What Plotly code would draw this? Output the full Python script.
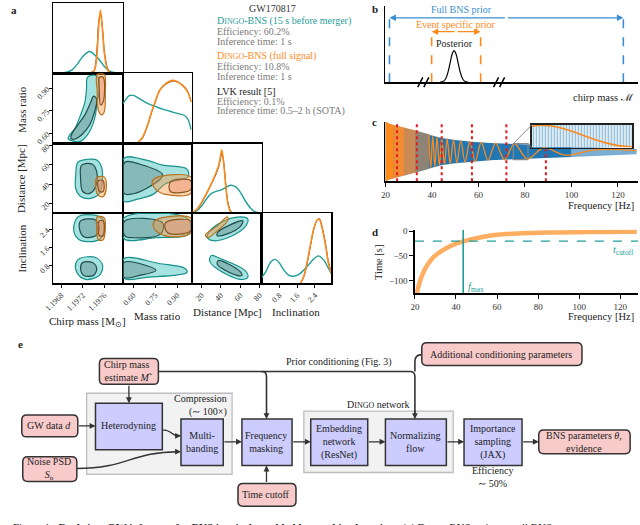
import plotly.graph_objects as go

W, H = 640, 525
FONT = 'Liberation Serif'
TEAL = '#1f9e98'
ORANGE = '#ff8a1c'
BLUE = '#1f77b4'
GRAYTXT = '#7a7a7a'
PINK = '#f8caca'
LAV = '#ccccff'

# ---------------- data: panel a (corner plot) ----------------
PARAM_RANGES = [[1.19665, 1.19795], [0.53, 1.0], [10, 82], [0, 3.14159]]
TICK_VALS = [[1.1968, 1.1972, 1.1976], [0.60, 0.75, 0.90], [20, 40, 60, 80], [0.8, 1.6, 2.4]]
TICK_TEXT = [['1.1968', '1.1972', '1.1976'], ['0.60', '0.75', '0.90'], ['20', '40', '60', '80'], ['0.8', '1.6', '2.4']]
PARAM_LABELS = ['Chirp mass [M<sub>⊙</sub>]', 'Mass ratio', 'Distance [Mpc]', 'Inclination']

# 1D marginals (height as fraction of panel)
MC_GRID_TEAL = [1.19665, 1.1968, 1.1969, 1.1970, 1.1971, 1.1972, 1.19733, 1.1975, 1.1976, 1.1977, 1.1978, 1.19795]
MC_TEAL = [0.0, 0.005, 0.015, 0.05, 0.13, 0.24, 0.31, 0.2, 0.1, 0.03, 0.008, 0.0]
MC_GRID_ORANGE = [1.19665, 1.1972, 1.1974, 1.19745, 1.1975, 1.19753, 1.19757, 1.1976, 1.19765, 1.1977, 1.1979]
MC_ORANGE = [0.0, 0.0, 0.02, 0.15, 0.7, 0.9, 0.6, 0.3, 0.08, 0.01, 0.0]
MC_LVK = [0.0, 0.0, 0.03, 0.2, 0.75, 0.84, 0.62, 0.33, 0.1, 0.02, 0.0]

Q_GRID_TEAL = [0.53, 0.55, 0.57, 0.59, 0.61, 0.65, 0.70, 0.75, 0.80, 0.85, 0.90, 0.95, 0.975, 0.995]
Q_TEAL = [0.57, 0.63, 0.68, 0.69, 0.68, 0.63, 0.57, 0.53, 0.49, 0.46, 0.43, 0.40, 0.34, 0.2]
Q_GRID_ORANGE = [0.53, 0.62, 0.66, 0.70, 0.725, 0.75, 0.78, 0.82, 0.87, 0.91, 0.95, 0.975, 0.995]
Q_ORANGE = [0.0, 0.0, 0.08, 0.28, 0.45, 0.6, 0.76, 0.85, 0.9, 0.87, 0.8, 0.72, 0.59]
Q_LVK = [0.0, 0.0, 0.07, 0.27, 0.44, 0.59, 0.75, 0.84, 0.89, 0.87, 0.81, 0.73, 0.6]

D_GRID_TEAL = [10, 15, 20, 25, 30, 35, 40, 45, 50, 55, 60, 65, 70, 75, 82]
D_TEAL = [0.0, 0.03, 0.1, 0.2, 0.28, 0.31, 0.33, 0.37, 0.40, 0.38, 0.3, 0.18, 0.08, 0.02, 0.0]
D_GRID_ORANGE = [10, 15, 20, 25, 30, 35, 38, 41, 43, 45, 47, 50, 53, 82]
D_ORANGE = [0.0, 0.05, 0.15, 0.28, 0.42, 0.58, 0.7, 0.91, 0.7, 0.4, 0.15, 0.02, 0.0, 0.0]
D_LVK = [0.0, 0.05, 0.14, 0.27, 0.41, 0.56, 0.68, 0.86, 0.72, 0.42, 0.17, 0.03, 0.0, 0.0]

I_GRID_TEAL = [0.0, 0.2, 0.4, 0.6, 0.8, 1.0, 1.2, 1.45, 1.7, 2.0, 2.3, 2.55, 2.8, 3.0, 3.14]
I_TEAL = [0.08, 0.17, 0.3, 0.34, 0.29, 0.19, 0.12, 0.1, 0.13, 0.22, 0.33, 0.39, 0.33, 0.22, 0.14]
I_GRID_ORANGE = [1.75, 1.9, 2.05, 2.2, 2.35, 2.5, 2.6, 2.75, 2.9, 3.0, 3.14]
I_ORANGE = [0.0, 0.1, 0.3, 0.55, 0.78, 0.9, 0.91, 0.75, 0.5, 0.3, 0.14]
I_LVK = [0.0, 0.09, 0.28, 0.53, 0.77, 0.9, 0.92, 0.77, 0.52, 0.32, 0.15]

# 2D credible contours (x values, y values)
MCQ_TEAL_90 = ([1.19693, 1.19714, 1.19729, 1.19742, 1.19747, 1.19751, 1.19749, 1.19742, 1.19729, 1.19727, 1.19724, 1.19716, 1.19705, 1.19696],
               [0.563, 0.543, 0.590, 0.696, 0.808, 0.894, 0.974, 0.987, 0.974, 0.894, 0.808, 0.722, 0.629, 0.590])
MCQ_TEAL_50 = ([1.19698, 1.19707, 1.19720, 1.19733, 1.19742, 1.19746, 1.19740, 1.19735, 1.19724, 1.19711, 1.19700],
               [0.563, 0.563, 0.596, 0.656, 0.742, 0.828, 0.848, 0.808, 0.722, 0.656, 0.596])
MCQ_ORANGE_90 = ([1.19747, 1.19760, 1.19762, 1.19760, 1.19755, 1.19749, 1.19747], [0.993, 0.993, 0.874, 0.742, 0.722, 0.755, 0.874])
MCQ_ORANGE_50 = ([1.19751, 1.19758, 1.19758, 1.19753, 1.19751], [0.974, 0.974, 0.808, 0.788, 0.874])

MCD_TEAL_90 = ([1.19711, 1.19729, 1.19747, 1.19756, 1.19756, 1.19751, 1.19735, 1.19716, 1.19707, 1.19707],
               [62.7, 65.8, 64.8, 55.6, 42.4, 30.3, 25.2, 27.2, 35.4, 49.5])
MCD_TEAL_50 = ([1.19718, 1.19738, 1.19746, 1.19744, 1.19733, 1.19720, 1.19716], [59.7, 60.7, 52.6, 37.4, 30.3, 32.3, 45.5])
MCD_ORANGE_90 = ([1.19746, 1.19760, 1.19764, 1.19758, 1.19749, 1.19744], [46.5, 47.5, 37.4, 27.2, 28.3, 37.4])
MCD_ORANGE_50 = ([1.19749, 1.19758, 1.19758, 1.19751], [43.5, 43.5, 32.3, 32.3])

MCI_TEAL_90_A = ([1.19711, 1.19738, 1.19757, 1.19760, 1.19753, 1.19729, 1.19711, 1.19703], [2.965, 3.053, 2.876, 2.434, 1.991, 1.859, 1.991, 2.434])
MCI_TEAL_50_A = ([1.19716, 1.19744, 1.19751, 1.19744, 1.19722, 1.19714], [2.788, 2.832, 2.434, 2.124, 2.08, 2.434])
MCI_TEAL_90_B = ([1.19714, 1.19744, 1.19757, 1.19751, 1.19725, 1.19709, 1.19707], [1.106, 1.151, 0.797, 0.354, 0.177, 0.487, 0.885])
MCI_TEAL_50_B = ([1.19720, 1.19738, 1.19746, 1.19740, 1.19722, 1.19716], [0.929, 0.929, 0.664, 0.354, 0.354, 0.664])
MCI_ORANGE_90 = ([1.19747, 1.19760, 1.19762, 1.19758, 1.19749, 1.19746], [2.965, 2.92, 2.434, 1.947, 1.947, 2.434])
MCI_ORANGE_50 = ([1.19751, 1.19758, 1.19758, 1.19751], [2.788, 2.788, 2.124, 2.124])

QD_TEAL_90 = ([0.537, 0.689, 0.801, 0.967, 0.974, 0.821, 0.735, 0.623, 0.537], [66.8, 64.8, 59.7, 55.6, 47.5, 40.4, 29.3, 24.2, 22.2])
QD_TEAL_50 = ([0.543, 0.643, 0.801, 0.689, 0.576, 0.537], [62.7, 60.7, 49.5, 35.4, 29.3, 30.3])
QD_ORANGE_90 = ([0.755, 0.993, 0.993, 0.821, 0.755, 0.729], [46.5, 47.5, 30.3, 29.3, 34.3, 42.4])
QD_ORANGE_50 = ([0.854, 0.993, 0.993, 0.854], [42.4, 43.5, 34.3, 32.3])

QI_TEAL_90_A = ([0.537, 0.974, 0.980, 0.755, 0.537], [2.92, 2.876, 2.21, 2.036, 1.991])
QI_TEAL_50_A = ([0.543, 0.801, 0.788, 0.603, 0.543], [2.788, 2.7, 2.21, 2.036, 2.124])
QI_TEAL_90_B = ([0.537, 0.775, 0.954, 0.967, 0.689, 0.537], [1.106, 0.885, 0.664, 0.487, 0.266, 0.221])
QI_TEAL_50_B = ([0.537, 0.689, 0.755, 0.643, 0.537], [0.929, 0.797, 0.575, 0.354, 0.266])
QI_ORANGE_90 = ([0.755, 0.993, 0.993, 0.854, 0.755, 0.735], [2.832, 2.92, 2.257, 2.08, 2.346, 2.611])
QI_ORANGE_50 = ([0.821, 0.993, 0.993, 0.834], [2.7, 2.788, 2.346, 2.257])

DI_TEAL_90_A = ([27.2, 39.4, 59.7, 67.8, 64.8, 49.5, 32.3, 26.2], [2.257, 2.7, 2.965, 2.876, 2.522, 2.08, 1.903, 2.036])
DI_TEAL_50_A = ([36.4, 49.5, 62.7, 59.7, 46.5, 36.4], [2.257, 2.611, 2.788, 2.522, 2.21, 2.124])
DI_ORANGE_90 = ([24.2, 36.4, 46.5, 47.5, 36.4, 26.2], [2.168, 2.566, 2.965, 2.832, 2.346, 2.036])
DI_TEAL_90_B = ([30.3, 39.4, 64.8, 67.8, 59.7, 34.3, 28.3], [1.239, 1.106, 0.575, 0.266, 0.177, 0.708, 1.018])
DI_TEAL_50_B = ([37.4, 59.7, 61.7, 56.6, 36.4], [1.018, 0.531, 0.354, 0.354, 0.841])

# ---------------- data: panel b (schematic prior) ----------------
PRIOR_FULL = [1.6, 94.2]
PRIOR_EVENT = [18.3, 37.7]
ARROW_Y_FULL = 65
ARROW_Y_EVENT = 51
POST_X = [21.6, 22.4, 23.2, 24.0, 24.8, 25.6, 26.4, 27.2, 28.0, 28.8, 29.6, 30.4, 31.2, 32.0, 32.8]
POST_Y = [0.1, 0.4, 1.4, 4.3, 10.4, 19.4, 28.2, 32, 28.2, 19.4, 10.4, 4.3, 1.4, 0.4, 0.1]
AXIS_BREAKS = [14.4, 44.4]

# ---------------- data: panel c (waveform) ----------------
ENV_FREQ = [20, 21, 22, 23.5, 24, 27, 28, 30, 33, 33.5, 36, 38.7, 40, 44, 50, 57, 65, 72, 80, 90, 100, 110, 120, 128]
ENV_HALF = [1.0, 0.95, 0.92, 0.89, 0.88, 0.82, 0.80, 0.76, 0.70, 0.69, 0.63, 0.57, 0.54, 0.46, 0.39, 0.33, 0.29, 0.27, 0.25, 0.22, 0.18, 0.14, 0.11, 0.09]
OSC_FREQ = [38.7, 39.5, 40.35, 41.25, 42.2, 43.2, 44.25, 45.35, 46.55, 47.85, 49.25, 50.75, 52.4, 54.25, 56.3,
            58.6, 61.2, 64.1, 67.4, 71.2, 75.5, 81.0, 88.0, 97.5, 110.0, 128.0]
OSC_VAL = [0.57, -0.55, 0.53, -0.51, 0.49, -0.47, 0.455, -0.44, 0.425, -0.41, 0.395, -0.385, 0.37, -0.355, 0.34,
           -0.325, 0.31, -0.295, 0.285, -0.275, 0.26, -0.245, 0.12, -0.12, 0.06, 0.03]
# blended colour of the densely oscillating heterodyned strain over the full strain
DENSE_SEGMENTS = [(20, 23.5, '#ff8a1c'), (23.5, 28, '#f08c34'), (28, 33, '#c98a55'), (33, 38.7, '#8f8375')]
BAND_EDGES = [25, 33.5, 44.2, 57.2, 72, 89]
INSET_F = [75.0, 81.3]
INSET_A = [-0.27, 0.27]
C_XRANGE = [20, 128.6]

# ---------------- data: panel d (time-frequency) ----------------
TF_FREQ = [21, 22, 23.5, 25, 27.5, 30, 35, 40, 44, 50, 60, 70, 80, 90, 100, 110, 120, 128]
TF_TIME = [-126, -108, -90, -76, -60, -49, -35, -25, -20, -14, -7, -4.5, -3, -2.2, -1.7, -1.3, -1.0, -0.8]
T_CUTOFF = -20
F_MAX = 43.5
D_XRANGE = [20, 128.6]
D_YRANGE = [-126, 3]
FREQ_TICKS = [20, 40, 60, 80, 100, 120]
TIME_TICKS = [0, -50, -100]

# ---------------- helpers ----------------
fig = go.Figure()
axes_layout = {}
shapes = []
annotations = []
_n = [0]

HID = dict(showgrid=False, zeroline=False, fixedrange=True)


def make_axes(px0, px1, py0, py1, xo, yo):
    _n[0] += 1
    s = '' if _n[0] == 1 else str(_n[0])
    axes_layout['xaxis' + s] = dict(domain=[px0 / W, px1 / W], anchor='y' + s, **HID, **xo)
    axes_layout['yaxis' + s] = dict(domain=[1 - py1 / H, 1 - py0 / H], anchor='x' + s, **HID, **yo)
    return 'x' + s, 'y' + s


def X(px):
    return px / W


def Y(py):
    return 1 - py / H


def txt(px, py, s, size=10, color='#222', xanchor='center', yanchor='middle', angle=0, align='center'):
    annotations.append(dict(x=X(px), y=Y(py), xref='paper', yref='paper', text=s, showarrow=False,
                            font=dict(size=size, color=color, family=FONT), xanchor=xanchor,
                            yanchor=yanchor, textangle=angle, align=align))


def arrow(hx, hy, tx, ty, color='#333'):
    annotations.append(dict(x=X(hx), y=Y(hy), xref='paper', yref='paper', ax=tx - hx, ay=ty - hy,
                            axref='pixel', ayref='pixel', showarrow=True, arrowhead=2, arrowsize=0.9,
                            arrowwidth=1.3, arrowcolor=color, text='', standoff=0))


def rpath(x0, y0, x1, y1, r):
    if r == 0:
        return f"M{X(x0)},{Y(y0)} L{X(x1)},{Y(y0)} L{X(x1)},{Y(y1)} L{X(x0)},{Y(y1)} Z"
    return (f"M{X(x0 + r)},{Y(y0)} L{X(x1 - r)},{Y(y0)} Q{X(x1)},{Y(y0)} {X(x1)},{Y(y0 + r)} "
            f"L{X(x1)},{Y(y1 - r)} Q{X(x1)},{Y(y1)} {X(x1 - r)},{Y(y1)} L{X(x0 + r)},{Y(y1)} "
            f"Q{X(x0)},{Y(y1)} {X(x0)},{Y(y1 - r)} L{X(x0)},{Y(y0 + r)} Q{X(x0)},{Y(y0)} {X(x0 + r)},{Y(y0)} Z")


def box(rect, fill, r=0, line='#333', width=1.5):
    shapes.append(dict(type='path', xref='paper', yref='paper', path=rpath(*rect, r),
                       fillcolor=fill, line=dict(color=line, width=width), layer='above'))


def curve(path_px, color='#333', width=1.4):
    out = []
    for tok in path_px:
        if isinstance(tok, str):
            out.append(tok)
        else:
            out.append(f"{X(tok[0])},{Y(tok[1])}")
    shapes.append(dict(type='path', xref='paper', yref='paper', path=' '.join(out),
                       line=dict(color=color, width=width), layer='above'))


# ---------------- panel a ----------------
COLS_PX = [(45, 116), (116, 186), (186, 257), (257, 328)]
ROWS_PX = [(0, 71), (71, 142), (142, 212), (212, 283)]
cell = {}
for r in range(4):
    for c in range(r + 1):
        bottom = (r == 3)
        left = (c == 0 and r > 0)
        xo = dict(range=PARAM_RANGES[c], showline=True, mirror=True, linecolor='black', linewidth=1.3,
                  ticks='outside' if bottom else '', ticklen=3, tickcolor='black',
                  showticklabels=bottom, tickvals=TICK_VALS[c], ticktext=TICK_TEXT[c], tickangle=-45,
                  tickfont=dict(size=8, family=FONT, color='#333'))
        if c == r:
            yo = dict(range=[0, 1.0], showline=True, mirror=True, linecolor='black', linewidth=1.3,
                      ticks='', showticklabels=False)
        else:
            yo = dict(range=PARAM_RANGES[r], showline=True, mirror=True, linecolor='black', linewidth=1.3,
                      ticks='outside' if left else '', ticklen=3, tickcolor='black',
                      showticklabels=left, tickvals=TICK_VALS[r], ticktext=TICK_TEXT[r], tickangle=-45,
                      tickfont=dict(size=8, family=FONT, color='#333'))
        cell[(r, c)] = make_axes(COLS_PX[c][0], COLS_PX[c][1], ROWS_PX[r][0], ROWS_PX[r][1], xo, yo)

DIAG = [
    (0, MC_GRID_TEAL, MC_TEAL, MC_GRID_ORANGE, MC_ORANGE, MC_LVK),
    (1, Q_GRID_TEAL, Q_TEAL, Q_GRID_ORANGE, Q_ORANGE, Q_LVK),
    (2, D_GRID_TEAL, D_TEAL, D_GRID_ORANGE, D_ORANGE, D_LVK),
    (3, I_GRID_TEAL, I_TEAL, I_GRID_ORANGE, I_ORANGE, I_LVK),
]
for k, gx, ty, ox, oy, ly in DIAG:
    xa, ya = cell[(k, k)]
    fig.add_trace(go.Scatter(x=gx, y=ty, mode='lines', line=dict(color=TEAL, width=1.4, shape='spline', smoothing=0.8),
                             xaxis=xa, yaxis=ya, hoverinfo='skip'))
    fig.add_trace(go.Scatter(x=ox, y=ly, mode='lines', line=dict(color='#333', width=1.0, shape='spline', smoothing=0.8),
                             xaxis=xa, yaxis=ya, hoverinfo='skip'))
    fig.add_trace(go.Scatter(x=ox, y=oy, mode='lines', line=dict(color=ORANGE, width=1.6, shape='spline', smoothing=0.8),
                             xaxis=xa, yaxis=ya, hoverinfo='skip'))

STY = {
    ('teal', 90): dict(fill='rgba(40,185,180,0.42)', line='#17928c'),
    ('teal', 50): dict(fill='rgba(70,105,105,0.33)', line='#1d4f4f'),
    ('orange', 90): dict(fill='rgba(255,150,60,0.42)', line='#b8731e'),
    ('orange', 50): dict(fill='rgba(230,140,110,0.45)', line='#8a5520'),
}
CONTOURS = [
    (1, 0, 'teal', 90, MCQ_TEAL_90), (1, 0, 'teal', 50, MCQ_TEAL_50),
    (1, 0, 'orange', 90, MCQ_ORANGE_90), (1, 0, 'orange', 50, MCQ_ORANGE_50),
    (2, 0, 'teal', 90, MCD_TEAL_90), (2, 0, 'teal', 50, MCD_TEAL_50),
    (2, 0, 'orange', 90, MCD_ORANGE_90), (2, 0, 'orange', 50, MCD_ORANGE_50),
    (3, 0, 'teal', 90, MCI_TEAL_90_A), (3, 0, 'teal', 50, MCI_TEAL_50_A),
    (3, 0, 'teal', 90, MCI_TEAL_90_B), (3, 0, 'teal', 50, MCI_TEAL_50_B),
    (3, 0, 'orange', 90, MCI_ORANGE_90), (3, 0, 'orange', 50, MCI_ORANGE_50),
    (2, 1, 'teal', 90, QD_TEAL_90), (2, 1, 'teal', 50, QD_TEAL_50),
    (2, 1, 'orange', 90, QD_ORANGE_90), (2, 1, 'orange', 50, QD_ORANGE_50),
    (3, 1, 'teal', 90, QI_TEAL_90_A), (3, 1, 'teal', 50, QI_TEAL_50_A),
    (3, 1, 'teal', 90, QI_TEAL_90_B), (3, 1, 'teal', 50, QI_TEAL_50_B),
    (3, 1, 'orange', 90, QI_ORANGE_90), (3, 1, 'orange', 50, QI_ORANGE_50),
    (3, 2, 'teal', 90, DI_TEAL_90_A), (3, 2, 'teal', 50, DI_TEAL_50_A),
    (3, 2, 'teal', 90, DI_TEAL_90_B), (3, 2, 'teal', 50, DI_TEAL_50_B),
    (3, 2, 'orange', 90, DI_ORANGE_90),
]
for r, c, kind, lev, (cx, cy) in CONTOURS:
    xa, ya = cell[(r, c)]
    st = STY[(kind, lev)]
    fig.add_trace(go.Scatter(x=list(cx) + [cx[0]], y=list(cy) + [cy[0]], mode='lines', fill='toself',
                             fillcolor=st['fill'], line=dict(color=st['line'], width=1.2, shape='spline', smoothing=1.0),
                             xaxis=xa, yaxis=ya, hoverinfo='skip'))

# axis titles
txt(80, 322, PARAM_LABELS[0], size=11)
txt(151, 316, PARAM_LABELS[1], size=11)
txt(222, 312, PARAM_LABELS[2], size=11)
txt(292, 312, PARAM_LABELS[3], size=11)
txt(13, 107, PARAM_LABELS[1], size=11, angle=-90)
txt(13, 177, PARAM_LABELS[2], size=11, angle=-90)
txt(13, 248, PARAM_LABELS[3], size=11, angle=-90)

# legend block
SC = "<span style='font-size:8px'>INGO</span>"
txt(268, 6, 'GW170817', size=10, color='#333')
LEG = [
    (18, 'D' + SC + '-BNS (15 s before merger)', TEAL),
    (29, 'Efficiency: 60.2%', GRAYTXT),
    (39, 'Inference time: 1 s', GRAYTXT),
    (54, 'D' + SC + '-BNS (full signal)', ORANGE),
    (64, 'Efficiency: 10.8%', GRAYTXT),
    (74, 'Inference time: 1 s', GRAYTXT),
    (89, 'LVK result [5]', '#222'),
    (99, 'Efficiency: 0.1%', GRAYTXT),
    (109, 'Inference time: 0.5–2 h (SOTA)', GRAYTXT),
]
for py, s, col in LEG:
    txt(210, py, s, size=10, color=col, xanchor='left')

# ---------------- panel b ----------------
xb, yb = make_axes(383, 640, 3, 80,
                   dict(range=[0, 100], showline=True, linecolor='black', linewidth=1.6, showticklabels=False, ticks=''),
                   dict(range=[0, 77], showline=True, linecolor='black', linewidth=1.6, showticklabels=False, ticks=''))
BLUE_B = '#3a8fd0'
fig.add_trace(go.Scatter(x=[PRIOR_FULL[0], PRIOR_FULL[0], None, PRIOR_FULL[1], PRIOR_FULL[1]],
                         y=[0, ARROW_Y_FULL, None, 0, ARROW_Y_FULL], mode='lines',
                         line=dict(color=BLUE_B, width=1.6, dash='dash'), xaxis=xb, yaxis=yb, hoverinfo='skip'))
fig.add_trace(go.Scatter(x=[PRIOR_EVENT[0], PRIOR_EVENT[0], None, PRIOR_EVENT[1], PRIOR_EVENT[1]],
                         y=[0, ARROW_Y_EVENT, None, 0, ARROW_Y_EVENT], mode='lines',
                         line=dict(color=ORANGE, width=1.6, dash='dash'), xaxis=xb, yaxis=yb, hoverinfo='skip'))
fig.add_trace(go.Scatter(x=POST_X, y=POST_Y, mode='lines', line=dict(color='black', width=1.2, shape='spline'),
                         xaxis=xb, yaxis=yb, hoverinfo='skip'))
for (lo, hi), yy, col in [(PRIOR_FULL, ARROW_Y_FULL, BLUE_B), (PRIOR_EVENT, ARROW_Y_EVENT, ORANGE)]:
    mid = (lo + hi) / 2
    for end in (lo, hi):
        annotations.append(dict(x=end, y=yy, xref=xb, yref=yb, ax=mid, ay=yy, axref=xb, ayref=yb,
                                showarrow=True, arrowhead=2, arrowsize=1.0, arrowwidth=1.3,
                                arrowcolor=col, text='', standoff=0))
for bx in AXIS_BREAKS:
    for off in (-1.6, 0.8):
        shapes.append(dict(type='line', xref=xb, yref='paper', x0=bx + off, x1=bx + off + 2.0,
                           y0=Y(85), y1=Y(75), line=dict(color='black', width=1.5)))
txt(460, 7, 'Full BNS prior', size=10, color=BLUE_B)
txt(455, 22, 'Event specific prior', size=10, color=ORANGE)
txt(453, 41, 'Posterior', size=10, color='#222')
txt(638, 95, 'chirp mass ℳ', size=10.5, color='#222', xanchor='right')

# ---------------- panel c ----------------
xc, yc = make_axes(383, 640, 120, 180,
                   dict(range=C_XRANGE, showline=True, linecolor='black', linewidth=1.5, ticks='outside', ticklen=4,
                        tickcolor='black', tickvals=FREQ_TICKS, tickfont=dict(size=9, family=FONT, color='#333')),
                   dict(range=[-1.0, 1.0], showline=True, linecolor='black', linewidth=1.5, ticks='', showticklabels=False))


def band(f_lo, f_hi):
    fs = [f for f in ENV_FREQ if f_lo <= f <= f_hi]
    hs = [h for f, h in zip(ENV_FREQ, ENV_HALF) if f_lo <= f <= f_hi]
    return fs + fs[::-1], hs + [-h for h in hs[::-1]]


bx_, by_ = band(20, 100)
fig.add_trace(go.Scatter(x=bx_, y=by_, fill='toself', mode='lines', fillcolor=BLUE, line=dict(width=0),
                         xaxis=xc, yaxis=yc, hoverinfo='skip'))
bx_, by_ = band(100, 128)
fig.add_trace(go.Scatter(x=bx_, y=by_, fill='toself', mode='lines', fillcolor='rgba(31,119,180,0.6)', line=dict(width=0),
                         xaxis=xc, yaxis=yc, hoverinfo='skip'))
for lo, hi, col in DENSE_SEGMENTS:
    bx_, by_ = band(lo, hi)
    fig.add_trace(go.Scatter(x=bx_, y=by_, fill='toself', mode='lines', fillcolor=col, line=dict(width=0.5, color=col),
                             xaxis=xc, yaxis=yc, hoverinfo='skip'))
fig.add_trace(go.Scatter(x=OSC_FREQ, y=OSC_VAL, mode='lines', line=dict(color=ORANGE, width=1.3, shape='spline', smoothing=1.0),
                         xaxis=xc, yaxis=yc, hoverinfo='skip'))
rx, ry = [], []
for f in BAND_EDGES:
    rx += [f, f, None]
    ry += [-1.0, 1.0, None]
fig.add_trace(go.Scatter(x=rx, y=ry, mode='lines', line=dict(color='#e8191c', width=2, dash='dot'),
                         xaxis=xc, yaxis=yc, hoverinfo='skip'))
shapes.append(dict(type='rect', xref=xc, yref=yc, x0=INSET_F[0], x1=INSET_F[1], y0=INSET_A[0], y1=INSET_A[1],
                   line=dict(color='#888', width=1.2)))


def c_px(f):
    return 383 + (f - C_XRANGE[0]) / (C_XRANGE[1] - C_XRANGE[0]) * 257


def c_py(a):
    return 150 - a * 30


INSET_PX = (532, 634, 123, 146)
shapes.append(dict(type='line', xref='paper', yref='paper', x0=X(c_px(INSET_F[0])), y0=Y(c_py(INSET_A[1])),
                   x1=X(INSET_PX[0]), y1=Y(INSET_PX[2]), line=dict(color='#888', width=1)))
shapes.append(dict(type='line', xref='paper', yref='paper', x0=X(c_px(INSET_F[1])), y0=Y(c_py(INSET_A[1])),
                   x1=X(INSET_PX[0]), y1=Y(INSET_PX[3]), line=dict(color='#888', width=1)))

xi, yi = make_axes(INSET_PX[0], INSET_PX[1], INSET_PX[2], INSET_PX[3],
                   dict(range=INSET_F, showline=True, mirror=True, linecolor='#222', linewidth=1.5, ticks='', showticklabels=False),
                   dict(range=INSET_A, showline=True, mirror=True, linecolor='#222', linewidth=1.5, ticks='', showticklabels=False))
fig.add_trace(go.Scatter(x=[INSET_F[0], INSET_F[1], INSET_F[1], INSET_F[0], INSET_F[0]],
                         y=[INSET_A[0], INSET_A[0], INSET_A[1], INSET_A[1], INSET_A[0]],
                         fill='toself', mode='lines', line=dict(width=0), fillcolor='white',
                         fillpattern=dict(shape='|', fgcolor=BLUE, bgcolor='white', size=3, solidity=0.55),
                         xaxis=xi, yaxis=yi, hoverinfo='skip'))
fig.add_trace(go.Scatter(x=OSC_FREQ, y=OSC_VAL, mode='lines', line=dict(color=ORANGE, width=1.6, shape='spline', smoothing=1.0),
                         xaxis=xi, yaxis=yi, hoverinfo='skip'))
txt(638, 204, 'Frequency [Hz]', size=10.5, xanchor='right')

# ---------------- panel d ----------------
xd, yd = make_axes(413, 640, 229, 293,
                   dict(range=D_XRANGE, showline=True, linecolor='black', linewidth=1.5, ticks='outside', ticklen=4,
                        tickcolor='black', tickvals=FREQ_TICKS, tickfont=dict(size=9, family=FONT, color='#333')),
                   dict(range=D_YRANGE, showline=True, linecolor='black', linewidth=1.5, ticks='outside', ticklen=4,
                        tickcolor='black', tickvals=TIME_TICKS, tickfont=dict(size=9, family=FONT, color='#333')))
fig.add_trace(go.Scatter(x=TF_FREQ, y=TF_TIME, mode='lines', line=dict(color='rgba(255,140,30,0.7)', width=4.5, shape='spline'),
                         xaxis=xd, yaxis=yd, hoverinfo='skip'))
fig.add_trace(go.Scatter(x=D_XRANGE, y=[T_CUTOFF, T_CUTOFF], mode='lines', line=dict(color=TEAL, width=1.4, dash='dash'),
                         xaxis=xd, yaxis=yd, hoverinfo='skip'))
fig.add_trace(go.Scatter(x=[F_MAX, F_MAX], y=D_YRANGE, mode='lines', line=dict(color=TEAL, width=1.6),
                         xaxis=xd, yaxis=yd, hoverinfo='skip'))
txt(376, 262, 'Time [s]', size=10.5, angle=-90)
txt(638, 317, 'Frequency [Hz]', size=10.5, xanchor='right')
txt(638, 250, '<i>t</i><sub>cutoff</sub>', size=10.5, color=TEAL, xanchor='right')
txt(465, 287, '<i>f</i><sub>max</sub>', size=10.5, color=TEAL, xanchor='left')

# ---------------- panel labels ----------------
for px, py, s in [(5, 7, 'a'), (372, 6, 'b'), (372, 120, 'c'), (372, 231, 'd'), (12, 344, 'e')]:
    txt(px, py, '<b>' + s + '</b>', size=11)

# ---------------- panel e (flow chart) ----------------
box((79, 394, 227, 476), '#f2f2f2', 0, line='#bdbdbd', width=1.3)
box((300, 412, 452, 474), '#f2f2f2', 0, line='#bdbdbd', width=1.3)
curve(['M', (152, 372), 'L', (408, 372), 'Q', (413, 372), (413, 377), 'L', (413, 414)], width=1.6)
curve(['M', (257, 372), 'Q', (262, 372), (262, 377), 'L', (262, 416)], width=1.6)
curve(['M', (420, 355), 'Q', (413, 355), (413, 362), 'L', (413, 372)], width=1.6)
curve(['M', (156, 431), 'C', (166, 431), (165, 437), (172, 437)], width=1.4)
curve(['M', (69, 470), 'C', (120, 470), (125, 453), (172, 453)], width=1.4)
PINK_BOXES = [(92, 359, 152, 385), (13, 416, 70, 438), (14, 458, 69, 483), (233, 485, 292, 508),
              (420, 343, 583, 366), (539, 431, 632, 455)]
LAV_BOXES = [(88, 404, 156, 451), (175, 420, 218, 467), (237, 420, 288, 467), (307, 420, 365, 467),
             (383, 420, 445, 467), (463, 420, 522, 467)]
for b in PINK_BOXES:
    box(b, PINK, 5)
for b in LAV_BOXES:
    box(b, LAV, 0)
arrow(88, 427, 70, 427)
arrow(122, 404, 122, 385)
arrow(175, 437, 168, 437)
arrow(175, 453, 168, 453)
arrow(237, 443, 218, 443)
arrow(262, 420, 262, 412)
arrow(262, 467, 262, 485)
arrow(307, 443, 288, 443)
arrow(383, 443, 365, 443)
arrow(413, 420, 413, 410)
arrow(463, 443, 445, 443)
arrow(539, 443, 522, 443)

txt(122, 372, 'Chirp mass<br>estimate <i>M</i>\u0303', size=10)
txt(41, 427, 'GW data <i>d</i>', size=10)
txt(41, 470, 'Noise PSD<br><i>S</i><sub>n</sub>', size=10)
txt(262, 496, 'Time cutoff', size=10)
txt(501, 355, 'Additional conditioning parameters', size=10)
txt(585, 443, 'BNS parameters <i>θ</i>,<br>evidence', size=10)
txt(122, 427, 'Heterodyning', size=10)
txt(196, 443, 'Multi-<br>banding', size=10)
txt(262, 443, 'Frequency<br>masking', size=10)
txt(336, 443, 'Embedding<br>network<br>(ResNet)', size=10)
txt(414, 443, 'Normalizing<br>flow', size=10)
txt(492, 443, 'Importance<br>sampling<br>(JAX)', size=10)
txt(224, 406, 'Compression<br>(∼ 100×)', size=10, xanchor='right', align='right')
txt(376, 405, 'D' + SC + ' network', size=10)
txt(336, 362, 'Prior conditioning (Fig. 3)', size=10)
txt(492, 479, 'Efficiency<br>∼ 50%', size=10)

# caption (cut off at the bottom edge, as in the reference)
txt(2, 521, 'Figure 1:  <b>Real-time GW inference for BNS inspirals enabled by machine learning.</b>  (a) D'
    + SC + '-BNS estimates all BNS', size=11, xanchor='left', yanchor='top')

fig.update_layout(width=W, height=H, margin=dict(l=0, r=0, t=0, b=0), paper_bgcolor='white',
                  plot_bgcolor='rgba(0,0,0,0)', showlegend=False,
                  font=dict(family=FONT, size=10, color='#222'), shapes=shapes, annotations=annotations,
                  **axes_layout)
fig.write_html('out.html', config={'displayModeBar': False, 'staticPlot': True},
               post_script="document.body.style.margin='0';document.body.style.padding='0';"
                           "document.body.style.overflow='hidden';")
